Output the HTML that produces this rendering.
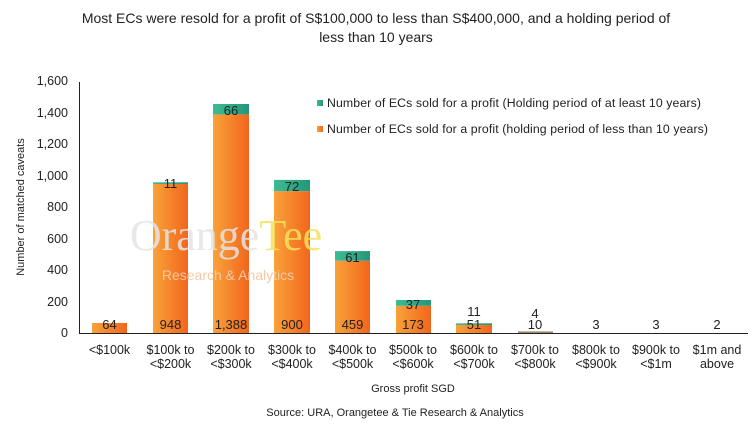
<!DOCTYPE html>
<html><head><meta charset="utf-8"><style>
body{margin:0;background:#fff;}
svg{display:block;font-family:"Liberation Sans",sans-serif;}
</style></head><body>
<svg width="753" height="424" viewBox="0 0 753 424">
<defs>
<linearGradient id="og" x1="0" x2="1" y1="0" y2="0"><stop offset="0" stop-color="#f9a23a"/><stop offset="1" stop-color="#f2661c"/></linearGradient>
<linearGradient id="tg" x1="0" x2="1"><stop offset="0" stop-color="#3dbb94"/><stop offset="1" stop-color="#23977a"/></linearGradient>
</defs>
<text x="376" y="23" text-anchor="middle" font-size="14" fill="#222">Most ECs were resold for a profit of S$100,000 to less than S$400,000, and a holding period of</text>
<text x="376" y="42" text-anchor="middle" font-size="14" fill="#222">less than 10 years</text>
<g font-size="12.5" fill="#222" text-anchor="end">
<text x="68" y="85">1,600</text><text x="68" y="117">1,400</text><text x="68" y="148">1,200</text><text x="68" y="180">1,000</text><text x="68" y="211">800</text><text x="68" y="243">600</text><text x="68" y="274">400</text><text x="68" y="306">200</text><text x="68" y="337">0</text>
</g>
<text transform="translate(24,207) rotate(-90)" text-anchor="middle" font-size="11" fill="#222">Number of matched caveats</text>
<line x1="79.5" y1="82" x2="79.5" y2="333.5" stroke="#222"/>
<line x1="79" y1="333.5" x2="748" y2="333.5" stroke="#222"/>
<g>
<rect x="92" y="323" width="35" height="10" fill="url(#og)"/>
<rect x="153" y="184" width="35" height="149" fill="url(#og)"/><rect x="153" y="182.3" width="35" height="1.7" fill="url(#tg)"/>
<rect x="213" y="114.4" width="36" height="218.6" fill="url(#og)"/><rect x="213" y="104" width="36" height="10.4" fill="url(#tg)"/>
<rect x="274" y="191.2" width="36" height="141.8" fill="url(#og)"/><rect x="274" y="179.9" width="36" height="11.3" fill="url(#tg)"/>
<rect x="335" y="260.7" width="35" height="72.3" fill="url(#og)"/><rect x="335" y="251.1" width="35" height="9.6" fill="url(#tg)"/>
<rect x="396" y="305.8" width="35" height="27.2" fill="url(#og)"/><rect x="396" y="300" width="35" height="5.8" fill="url(#tg)"/>
<rect x="456" y="325" width="36" height="8" fill="url(#og)"/><rect x="456" y="323.3" width="36" height="1.7" fill="url(#tg)"/>
<rect x="518" y="331.4" width="35" height="1.6" fill="#9a8a70"/>
</g>
<text x="226" y="250" text-anchor="middle" font-family="Liberation Serif,serif" font-size="44" fill="#e4e4e4" opacity="0.85">Orange<tspan fill="#f4e35a">Tee</tspan></text>
<text x="228" y="280" text-anchor="middle" font-size="14" fill="#f6c9a6">Research &amp; Analytics</text>
<g font-size="13" fill="#222" text-anchor="middle">
<text x="109.5" y="329">64</text>
<text x="170.5" y="329">948</text><text x="170.5" y="188">11</text>
<text x="231" y="329">1,388</text><text x="231" y="115">66</text>
<text x="292" y="329">900</text><text x="292" y="191">72</text>
<text x="352.5" y="329">459</text><text x="352.5" y="262">61</text>
<text x="413" y="329">173</text><text x="413" y="309">37</text>
<text x="474" y="329">51</text><text x="474" y="316">11</text>
<text x="535" y="329">10</text><text x="535" y="318">4</text>
<text x="596" y="329">3</text><text x="656" y="329">3</text><text x="717" y="329">2</text>
</g>
<g font-size="12.5" fill="#222" text-anchor="middle">
<text x="109.5" y="354">&lt;$100k</text>
<text x="170.5" y="354">$100k to</text><text x="170.5" y="368">&lt;$200k</text>
<text x="231" y="354">$200k to</text><text x="231" y="368">&lt;$300k</text>
<text x="292" y="354">$300k to</text><text x="292" y="368">&lt;$400k</text>
<text x="352.5" y="354">$400k to</text><text x="352.5" y="368">&lt;$500k</text>
<text x="413" y="354">$500k to</text><text x="413" y="368">&lt;$600k</text>
<text x="474" y="354">$600k to</text><text x="474" y="368">&lt;$700k</text>
<text x="535" y="354">$700k to</text><text x="535" y="368">&lt;$800k</text>
<text x="596" y="354">$800k to</text><text x="596" y="368">&lt;$900k</text>
<text x="656" y="354">$900k to</text><text x="656" y="368">&lt;$1m</text>
<text x="717" y="354">$1m and</text><text x="717" y="368">above</text>
</g>
<text x="413" y="392" text-anchor="middle" font-size="11" fill="#222">Gross profit SGD</text>
<text x="395" y="416" text-anchor="middle" font-size="11" fill="#222">Source: URA, Orangetee &amp; Tie Research &amp; Analytics</text>
<rect x="317" y="100" width="6" height="6" fill="url(#tg)"/>
<text x="327" y="107" font-size="12.3" fill="#222" textLength="374" lengthAdjust="spacing">Number of ECs sold for a profit (Holding period of at least 10 years)</text>
<rect x="317" y="126" width="6" height="6" fill="url(#og)"/>
<text x="327" y="133" font-size="12.3" fill="#222" textLength="381" lengthAdjust="spacing">Number of ECs sold for a profit (holding period of less than 10 years)</text>
</svg>
</body></html>
